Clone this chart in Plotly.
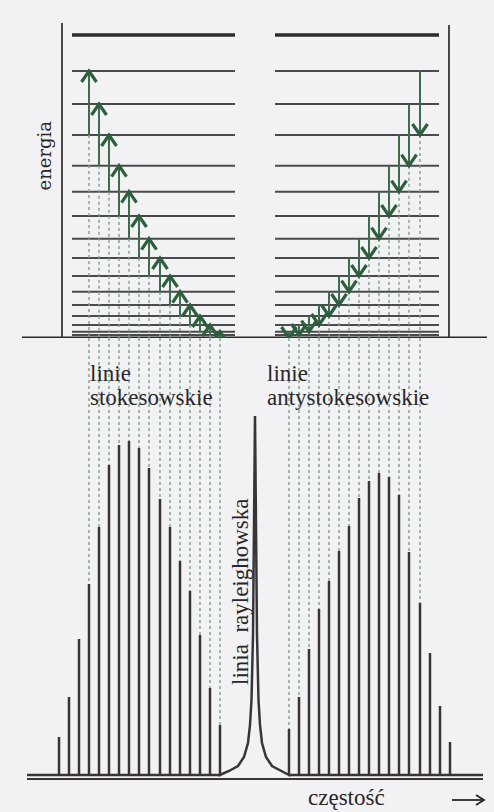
import plotly.graph_objects as go

# ---------------- data ----------------
# frequency shift of each line relative to the Rayleigh line (arbitrary units)
stokes_shift = [-196, -186, -176, -166, -156, -146, -136, -126, -116, -106,
                -95, -85, -75, -65, -55, -45, -35]
stokes_int = [38, 78, 136, 191, 248, 310, 330, 334, 327, 307,
              276, 248, 214, 184, 140, 87, 50]
anti_shift = [34, 44, 54, 64, 74, 84, 94, 104, 114, 124,
              134, 144, 154, 165, 175, 185, 195]
anti_int = [46, 78, 126, 166, 194, 224, 249, 277, 294, 302,
            298, 280, 223, 172, 122, 69, 33]
# Rayleigh line profile (offset from centre, intensity)
ray_dx = [-26, -17, -11, -7, -5, -3.5, -2, -1, 0, 1, 2, 3.5, 5, 7, 11, 17, 26]
ray_h = [4, 9, 18, 32, 50, 75, 140, 250, 359, 250, 140, 75, 50, 32, 18, 9, 4]

# rotational energy levels J = 0..16 (arbitrary units)
levels = [0, 3, 6.3, 13, 22, 33, 46.3, 62, 80, 99.3, 122, 146.3, 172.3,
          203, 234, 267, 303]
# transitions drawn: lower level J for each arrow
stokes_J = [13, 12, 11, 10, 9, 8, 7, 6, 5, 4, 3, 2, 1, 0]      # J -> J+2
stokes_peak_idx = [3, 4, 5, 6, 7, 8, 9, 10, 11, 12, 13, 14, 15, 16]
anti_J = [0, 1, 2, 3, 4, 5, 6, 7, 8, 9, 10, 11, 12, 13]        # J+2 -> J
anti_peak_idx = [0, 1, 2, 3, 4, 5, 6, 7, 8, 9, 10, 11, 12, 13]

labels = {
    "energy": "energia",
    "stokes1": "linie", "stokes2": "stokesowskie",
    "anti1": "linie", "anti2": "antystokesowskie",
    "rayleigh": "linia  rayleighowska",
    "xlabel": "częstość",
}

# ---------------- styles ----------------
W, H = 494, 812
BG = "#f2f2f4"
DARK = "#3a3436"
LEVEL = "#4a4a4c"
GREEN = "#3c6e4c"
GREEN_DARK = "#2e5e3e"
DOT = "#7f9f88"
TEXT = "#2a2628"
SERIF = "Liberation Serif, Times New Roman, serif"

split = 1 - 338 / H          # paper y where energy zero / spectrum top meet
E_RANGE = [-22, 338]
E_DOMAIN = [1 - 360 / H, 1]
I_RANGE = [-37, 437]
X_RANGE = [-255, 239]

fig = go.Figure()


def seg(x, y, axis, color, width, dash="solid"):
    fig.add_trace(go.Scatter(x=x, y=y, mode="lines", yaxis=axis,
                             line=dict(color=color, width=width, dash=dash),
                             hoverinfo="skip", showlegend=False))


# --- energy diagram frame ---
seg([-193, -193], [315, -22], "y", DARK, 1.8)
seg([194, 194], [313, -22], "y", DARK, 1.8)

# --- energy levels ---
left_span = (-183, -20)
right_span = (20, 184)
for j, e in enumerate(levels):
    if j == 0:
        continue
    w = 3.6 if j == len(levels) - 1 else 2.0
    col = "#2c2a2c" if j == len(levels) - 1 else LEVEL
    for a, b in (left_span, right_span):
        seg([a, b], [e, e], "y", col, w)

seg([-233, 232], [0, 0], "y", "#2a2a2a", 3.2)

# --- dotted guide lines ---
for k, J in zip(stokes_peak_idx, stokes_J):
    x = stokes_shift[k]
    seg([x, x], [levels[J], 0], "y", DOT, 1.4, "dot")
    seg([x, x], [I_RANGE[1], stokes_int[k]], "y2", DOT, 1.4, "dot")
for k, J in zip(anti_peak_idx, anti_J):
    x = anti_shift[k]
    seg([x, x], [levels[J], 0], "y", DOT, 1.4, "dot")
    seg([x, x], [I_RANGE[1], anti_int[k]], "y2", DOT, 1.4, "dot")

# --- transition arrows ---
hw, hh = 7.5, 11
for k, J in zip(stokes_peak_idx, stokes_J):
    x = stokes_shift[k]
    lo, hi = levels[J], levels[J + 2]
    seg([x, x], [lo, hi - 1], "y", GREEN, 2.0)
    seg([x - hw, x, x + hw], [hi - hh, hi, hi - hh], "y", GREEN_DARK, 3.2)
for k, J in zip(anti_peak_idx, anti_J):
    x = anti_shift[k]
    lo, hi = levels[J], levels[J + 2]
    seg([x, x], [hi, lo + 1], "y", GREEN, 2.0)
    seg([x - hw, x, x + hw], [lo + hh, lo, lo + hh], "y", GREEN_DARK, 3.2)

# --- spectrum ---
sx, sy = [-228], [0]
for x, h in zip(stokes_shift, stokes_int):
    sx += [x, x, x]
    sy += [0, h, 0]
for dx, h in zip(ray_dx, ray_h):
    sx.append(dx)
    sy.append(h)
for x, h in zip(anti_shift, anti_int):
    sx += [x, x, x]
    sy += [0, h, 0]
sx.append(228)
sy.append(0)
seg(sx, sy, "y2", DARK, 2.5)
seg([-228, 228], [-4, -4], "y2", DARK, 2.0)

# --- frequency arrow (decorative) ---
seg([197, 229], [-25, -25], "y2", TEXT, 1.8)
seg([221, 229, 221], [-20, -25, -30], "y2", TEXT, 1.8)

# --- text ---
ann = []
ann.append(dict(x=-211.5, y=182, xref="x", yref="y", text=labels["energy"],
                textangle=-90, showarrow=False,
                font=dict(family="DejaVu Serif, serif", size=18, color=TEXT)))
for key, xx, yy in (("stokes1", -167, 402), ("stokes2", -167, 378),
                    ("anti1", 10, 402), ("anti2", 10, 378)):
    ann.append(dict(x=xx, y=yy, xref="x", yref="y2", text=labels[key],
                    xanchor="left", yanchor="middle", showarrow=False,
                    font=dict(family=SERIF, size=23, color=TEXT)))
ann.append(dict(x=-15, y=183, xref="x", yref="y2", text=labels["rayleigh"],
                textangle=-90, showarrow=False,
                font=dict(family=SERIF, size=23, color=TEXT)))
ann.append(dict(x=91, y=-22, xref="x", yref="y2", text=labels["xlabel"],
                showarrow=False, font=dict(family=SERIF, size=23, color=TEXT)))

fig.update_layout(
    width=W, height=H,
    margin=dict(l=0, r=0, t=0, b=0),
    paper_bgcolor=BG, plot_bgcolor=BG,
    showlegend=False,
    annotations=ann,
    xaxis=dict(range=X_RANGE, domain=[0, 1], visible=False, fixedrange=True),
    yaxis=dict(range=E_RANGE, domain=E_DOMAIN, visible=False, fixedrange=True),
    yaxis2=dict(range=I_RANGE, domain=[0, split], visible=False,
                anchor="x", fixedrange=True),
)

fig.write_html("out.html", config={"displayModeBar": False})
